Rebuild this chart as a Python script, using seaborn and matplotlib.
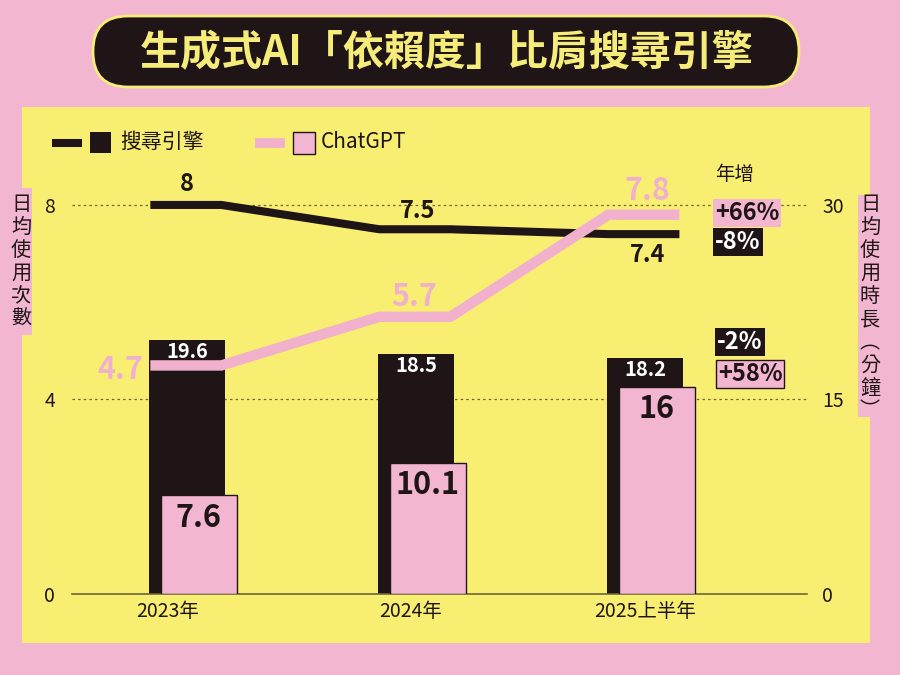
import numpy as np
import seaborn as sns
import matplotlib.pyplot as plt
from matplotlib.patches import Rectangle, FancyBboxPatch
from matplotlib.lines import Line2D
from matplotlib.transforms import IdentityTransform

# data
years = ["2023年", "2024年", "2025上半年"]
search_count = [8, 7.5, 7.4]        # 日均使用次數 (left axis)
gpt_count = [4.7, 5.7, 7.8]
search_minutes = [19.6, 18.5, 18.2]  # 日均使用時長 (right axis)
gpt_minutes = [7.6, 10.1, 16]
count_growth = ["+66%", "-8%"]      # ChatGPT, 搜尋引擎
minute_growth = ["-2%", "+58%"]     # 搜尋引擎, ChatGPT

PINK = "#f3b6d1"
LINE_PINK = "#f1b1cd"
YELLOW = "#f8ef72"
BLACK = "#1f1517"
GRID = "#6e6538"
TITLE_YELLOW = "#f6ec7a"

sns.set_theme(style="white")
plt.rcParams["font.family"] = ["Noto Sans CJK TC", "DejaVu Sans"]

fig = plt.figure(figsize=(9, 6.75), dpi=100, facecolor=PINK)
H = 675
px = IdentityTransform()

# yellow panel + title pill
fig.add_artist(Rectangle((22, H - 643), 848, 536, transform=px,
                         facecolor=YELLOW, edgecolor="none", zorder=0))
fig.add_artist(FancyBboxPatch((93, H - 87), 706, 71, transform=px,
                              boxstyle="round,pad=0,rounding_size=35",
                              facecolor=BLACK, edgecolor=TITLE_YELLOW,
                              linewidth=2, zorder=3))
fig.text(447 / 900, 1 - 53 / H, "生成式AI「依賴度」比肩搜尋引擎",
         ha="center", va="center", fontsize=29.5, fontweight="bold",
         color=TITLE_YELLOW, zorder=4)

# axes: bars on the minutes scale (right), lines on the count scale (left)
L, R, B, T = 72, 807, 594, 132
ax_bar = fig.add_axes([L / 900, (H - B) / H, (R - L) / 900, (B - T) / H])
ax_bar.set_facecolor("none")
ax_line = ax_bar.twinx()
ax_bar.yaxis.tick_right()
ax_line.yaxis.tick_left()

xpos = np.arange(len(years))
bar_w = 0.332
shift = 0.052
ax_bar.set_xlim(-0.502, 2.707)
ax_line.set_ylim(0, 9.5)
ax_bar.set_ylim(0, 9.5 * 30 / 8)

for y in [15, 30]:
    ax_bar.axhline(y, color=GRID, linestyle=(0, (2, 2.5)), linewidth=0.9, zorder=1)

ax_bar.bar(xpos, search_minutes, width=bar_w, color=BLACK, edgecolor="none",
           linewidth=0, zorder=2)
ax_bar.bar(xpos + shift, gpt_minutes, width=bar_w, color=PINK,
           edgecolor=BLACK, linewidth=1, zorder=3)

for x, v in zip(xpos, search_minutes):
    ax_bar.annotate(f"{v}", (x, v), xytext=(0, -8.5), textcoords="offset points",
                    ha="center", va="center", color="white", fontsize=14.5,
                    fontweight="bold", zorder=4)
for x, v in zip(xpos + shift, gpt_minutes):
    ax_bar.annotate(f"{v}", (x, v), xytext=(0, -16), textcoords="offset points",
                    ha="center", va="center", color=BLACK, fontsize=22,
                    fontweight="bold", zorder=4)

# step-like lines: flat across each bar group
lx = np.ravel([[x - 0.16, x + 0.15] for x in xpos])
sns.lineplot(x=lx, y=np.repeat(search_count, 2), ax=ax_line, color=BLACK,
             linewidth=5.8, sort=False, estimator=None)
sns.lineplot(x=lx, y=np.repeat(gpt_count, 2), ax=ax_line, color=LINE_PINK,
             linewidth=7.5, sort=False, estimator=None)
for ln in ax_line.lines:
    ln.set_solid_capstyle("butt")
    ln.set_solid_joinstyle("miter")

black_off = [(0, 15), (1, 13), (2, -15)]
for (dx, dy), x, v in zip(black_off, xpos, search_count):
    ax_line.annotate(f"{v}", (x, v), xytext=(dx, dy), textcoords="offset points",
                     ha="center", va="center", color=BLACK, fontsize=17,
                     fontweight="bold")
pink_off = [(-48, -3), (-1, 14), (2, 17)]
for (dx, dy), x, v in zip(pink_off, xpos, gpt_count):
    ax_line.annotate(f"{v}", (x, v), xytext=(dx, dy), textcoords="offset points",
                     ha="center", va="center", color=LINE_PINK, fontsize=22,
                     fontweight="bold")

# ticks
ax_line.set_yticks([0, 4, 8])
ax_bar.set_yticks([0, 15, 30])
ax_bar.set_xticks(xpos + np.array([-0.083, -0.022, 0]))
ax_bar.set_xticklabels(years)
ax_bar.tick_params(axis="x", length=0, pad=5, labelsize=14, labelcolor=BLACK)
ax_bar.tick_params(axis="y", length=0, pad=11, labelsize=14, labelcolor=BLACK,
                   left=False, labelleft=False, right=False, labelright=True)
ax_line.tick_params(axis="y", length=0, pad=12, labelsize=14, labelcolor=BLACK,
                    right=False, labelright=False, left=False, labelleft=True)
for a in (ax_bar, ax_line):
    a.set_xlabel("")
    a.set_ylabel("")
    for s in ["top", "left", "right"]:
        a.spines[s].set_visible(False)
ax_line.spines["bottom"].set_visible(False)
ax_bar.spines["bottom"].set_color(GRID)
ax_bar.spines["bottom"].set_linewidth(1.2)

# axis titles (vertical, on pink tabs)
fig.add_artist(Rectangle((0, H - 335), 32, 147, transform=px,
                         facecolor=PINK, edgecolor="none", zorder=3))
fig.text(21 / 900, 1 - 262 / H, "\n".join("日均使用次數"), ha="center", va="center",
         fontsize=14.5, linespacing=1.12, color=BLACK, zorder=4)
fig.add_artist(Rectangle((858, H - 417), 42, 222, transform=px,
                         facecolor=PINK, edgecolor="none", zorder=3))
fig.text(870 / 900, 1 - 308 / H, "\n".join("日均使用時長︵分鐘︶"), ha="center",
         va="center", fontsize=14.5, linespacing=1.12, color=BLACK, zorder=4)

# legend
fig.add_artist(Line2D([52, 82], [H - 143, H - 143], transform=px, color=BLACK,
                      linewidth=5.8, solid_capstyle="butt", zorder=3))
fig.add_artist(Rectangle((90, H - 153), 21, 21, transform=px,
                         facecolor=BLACK, edgecolor="none", zorder=3))
fig.text(120 / 900, 1 - 142 / H, "搜尋引擎", ha="left", va="center",
         fontsize=15, color=BLACK)
fig.add_artist(Line2D([255, 285], [H - 143, H - 143], transform=px,
                      color=LINE_PINK, linewidth=7, solid_capstyle="butt", zorder=3))
fig.add_artist(Rectangle((293, H - 154), 22, 22, transform=px,
                         facecolor=PINK, edgecolor=BLACK, linewidth=1, zorder=3))
fig.text(321 / 900, 1 - 142 / H, "ChatGPT", ha="left", va="center",
         fontsize=15, color=BLACK)

# yearly growth tags
fig.text(735 / 900, 1 - 175 / H, "年增", ha="center", va="center",
         fontsize=14, color=BLACK)
tags = [(747, 213, count_growth[0], PINK, BLACK, "none"),
        (738, 242, count_growth[1], BLACK, "white", "none"),
        (740, 342, minute_growth[0], BLACK, "white", "none"),
        (750, 374, minute_growth[1], PINK, BLACK, BLACK)]
for x, y, s, fc, tc, ec in tags:
    fig.text(x / 900, 1 - y / H, s, ha="center", va="center", fontsize=17,
             fontweight="bold", color=tc, zorder=5,
             bbox=dict(boxstyle="square,pad=0.08", facecolor=fc,
                       edgecolor=ec, linewidth=1))

fig.savefig("out.png", dpi=100, facecolor=PINK)
